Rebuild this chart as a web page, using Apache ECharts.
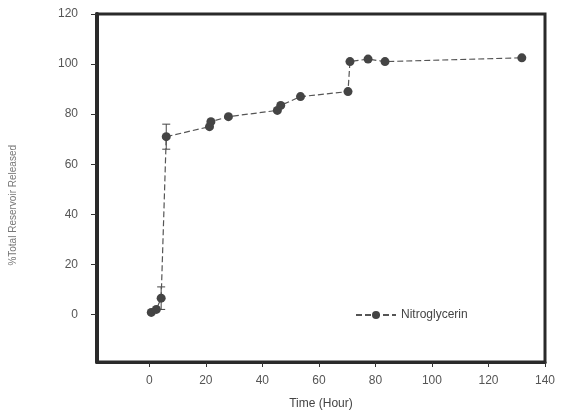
<!DOCTYPE html>
<html>
<head>
<meta charset="utf-8">
<script src="https://cdn.jsdelivr.net/npm/echarts@6/dist/echarts.min.js"></script>
<style>
  html, body { margin: 0; padding: 0; background: #fff; }
  #chart { width: 562px; height: 412px; }
</style>
</head>
<body>
<div id="chart"></div>
<script>
// data
const timeHours = [0.7, 2.5, 4.2, 6, 21.3, 21.8, 28, 45.3, 46.5, 53.5, 70.3, 71, 77.4, 83.4, 131.8];
const released = [0.8, 2, 6.5, 71, 75, 77, 79, 81.5, 83.5, 87, 89, 101, 102, 101, 102.5];
// error bars (index into the arrays above, +/- value)
const errIndex = [2, 3];
const errSize = [4.5, 5];
const xTicks = [0, 20, 40, 60, 80, 100, 120, 140];
const yTicks = [0, 20, 40, 60, 80, 100, 120];

const points = timeHours.map((t, i) => [t, released[i]]);
const errData = errIndex.map((k, i) => [timeHours[k], released[k] - errSize[i], released[k] + errSize[i]]);

let myChart = echarts.init(document.getElementById('chart'));
myChart.setOption({
  animation: false,
  textStyle: { fontFamily: 'Liberation Sans, Arial, sans-serif' },
  grid: {
    left: 97, top: 14, right: 17, bottom: 50,
    outerBoundsMode: 'none',
    show: true, borderColor: '#2a2a2a', borderWidth: 3
  },
  legend: {
    data: ['Nitroglycerin'],
    left: 350, top: 304,
    itemWidth: 40, itemHeight: 10,
    textStyle: { color: '#444', fontSize: 12 }
  },
  // y axis title, placed as in the scan (a bit below the axis middle)
  graphic: [{
    type: 'text',
    left: 8,
    top: 145,
    rotation: Math.PI / 2,
    style: {
      text: '%Total Reservoir Released',
      fill: '#777',
      fontSize: 10,
      fontFamily: 'Liberation Sans, Arial, sans-serif'
    }
  }],
  xAxis: {
    type: 'value',
    min: -18.5, max: 140,
    name: 'Time (Hour)',
    nameLocation: 'middle',
    nameGap: 36,
    nameTextStyle: { color: '#444', fontSize: 12 },
    splitLine: { show: false },
    axisLine: { show: true, onZero: false, lineStyle: { color: '#2a2a2a', width: 3 } },
    axisTick: { show: true, customValues: xTicks, length: 5, lineStyle: { color: '#333', width: 1 } },
    axisLabel: { customValues: xTicks, color: '#555', fontSize: 12, margin: 13 }
  },
  yAxis: {
    type: 'value',
    min: -19, max: 120,
    splitLine: { show: false },
    axisLine: { show: true, onZero: false, lineStyle: { color: '#2a2a2a', width: 4 } },
    axisTick: { show: true, customValues: yTicks, length: 6, lineStyle: { color: '#333', width: 1 } },
    axisLabel: { customValues: yTicks, color: '#555', fontSize: 12, margin: 19 }
  },
  series: [
    {
      name: 'Nitroglycerin',
      type: 'line',
      data: points,
      symbol: 'circle',
      symbolSize: 9,
      itemStyle: { color: '#444' },
      lineStyle: { color: '#555', width: 1.2, type: [6, 3] },
      z: 3
    },
    {
      name: 'err',
      type: 'custom',
      data: errData,
      renderItem: function (params, api) {
        const x = api.value(0);
        const lo = api.coord([x, api.value(1)]);
        const hi = api.coord([x, api.value(2)]);
        const w = 4;
        const st = { stroke: '#444', lineWidth: 1 };
        return {
          type: 'group',
          children: [
            { type: 'line', shape: { x1: lo[0], y1: lo[1], x2: hi[0], y2: hi[1] }, style: st },
            { type: 'line', shape: { x1: hi[0] - w, y1: hi[1], x2: hi[0] + w, y2: hi[1] }, style: st },
            { type: 'line', shape: { x1: lo[0] - w, y1: lo[1], x2: lo[0] + w, y2: lo[1] }, style: st }
          ]
        };
      },
      z: 2
    }
  ]
});
</script>
</body>
</html>
